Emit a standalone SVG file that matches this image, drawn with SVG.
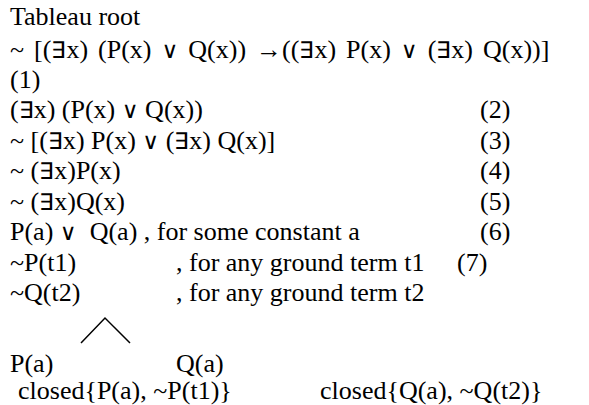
<svg xmlns="http://www.w3.org/2000/svg" width="589" height="405" viewBox="0 0 589 405">
<style>
text{font-family:"Liberation Serif","Times New Roman",serif;font-size:26px;fill:#000;white-space:pre}
.j{word-spacing:3.5px}
.e{font-size:23px}
.v{font-family:"DejaVu Sans",sans-serif;font-size:23px}
.c{stroke:#000;stroke-width:1.5;fill:none}
</style>
<rect width="589" height="405" fill="#fff"/>
<g id="root">
<text x="10" y="25">Tableau root</text>
<text class="j" x="10" y="58">~ [(<tspan class="e">∃</tspan>x) (P(x) <tspan class="v">∨</tspan> Q(x)) →((<tspan class="e">∃</tspan>x) P(x) <tspan class="v">∨</tspan> (<tspan class="e">∃</tspan>x) Q(x))]</text>
<text x="10" y="88">(1)</text>
</g>
<g id="line2"><text x="10" y="118">(<tspan class="e">∃</tspan>x) (P(x) <tspan class="v">∨</tspan> Q(x))</text><text x="480" y="118">(2)</text></g>
<g id="line3"><text x="10" y="149">~ [(<tspan class="e">∃</tspan>x) P(x) <tspan class="v">∨</tspan> (<tspan class="e">∃</tspan>x) Q(x)]</text><text x="480" y="149">(3)</text></g>
<g id="line4"><text x="10" y="179">~ (<tspan class="e">∃</tspan>x)P(x)</text><text x="480" y="179">(4)</text></g>
<g id="line5"><text x="10" y="210">~ (<tspan class="e">∃</tspan>x)Q(x)</text><text x="480" y="210">(5)</text></g>
<g id="line6"><text x="10" y="240">P(a) <tspan class="v">∨</tspan>  Q(a) , for some constant a</text><text x="480" y="240">(6)</text></g>
<g id="line7"><text x="10" y="271">~P(t1)</text><text x="176" y="271">, for any ground term t1</text><text x="457" y="271">(7)</text></g>
<g id="line8"><text x="10" y="301">~Q(t2)</text><text x="176" y="301">, for any ground term t2</text></g>
<g id="branchP"><text x="10" y="372">P(a)</text><text x="18" y="399">closed{P(a), ~P(t1)}</text></g>
<g id="branchQ"><text x="176" y="372">Q(a)</text><text x="320" y="399">closed{Q(a), ~Q(t2)}</text></g>
<g id="connectors">
<path class="c" d="M81 343 L105 318 L130 343"/>
</g>
</svg>
